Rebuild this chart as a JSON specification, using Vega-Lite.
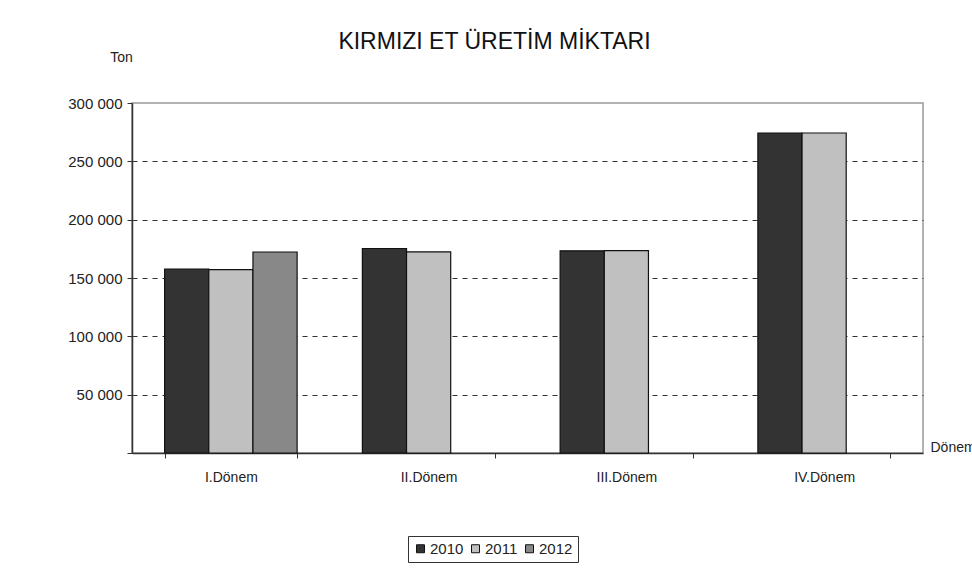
{
  "$schema": "https://vega.github.io/schema/vega-lite/v6.json",
  "autosize": {"type": "none"},
  "width": 791,
  "height": 350,
  "padding": {"left": 132, "top": 103, "right": 49, "bottom": 120},
  "background": "white",
  "config": {
    "locale": {"number": {"decimal": ",", "thousands": " ", "grouping": [3], "currency": ["", ""]}},
    "font": "Liberation Sans",
    "view": {"stroke": "#999999", "strokeWidth": 1.5},
    "title": {"font": "Liberation Sans", "fontSize": 23, "fontWeight": "normal", "color": "#111111"}
  },
  "title": {"text": "KIRMIZI ET ÜRETİM MİKTARI", "anchor": "middle", "offset": -4, "dx": -33},
  "data": {
    "values": [
      {"donem": "I.Dönem", "yil": "2010", "ton": 157700},
      {"donem": "I.Dönem", "yil": "2011", "ton": 157200},
      {"donem": "I.Dönem", "yil": "2012", "ton": 172300},
      {"donem": "II.Dönem", "yil": "2010", "ton": 175300},
      {"donem": "II.Dönem", "yil": "2011", "ton": 172400},
      {"donem": "III.Dönem", "yil": "2010", "ton": 173300},
      {"donem": "III.Dönem", "yil": "2011", "ton": 173400},
      {"donem": "IV.Dönem", "yil": "2010", "ton": 274300},
      {"donem": "IV.Dönem", "yil": "2011", "ton": 274300}
    ]
  },
  "mark": {"type": "bar", "stroke": "#111111", "strokeWidth": 1.2},
  "encoding": {
    "x": {
      "field": "donem",
      "type": "nominal",
      "sort": ["I.Dönem", "II.Dönem", "III.Dönem", "IV.Dönem"],
      "scale": {"paddingInner": 0.33, "paddingOuter": 0.165},
      "axis": {
        "title": "Dönem",
        "titleX": 798,
        "titleY": -6,
        "titleAlign": "left",
        "titleBaseline": "middle",
        "titleFontSize": 14,
        "titleFontWeight": "normal",
        "titleColor": "#222222",
        "labelAngle": 0,
        "labelFontSize": 14,
        "labelColor": "#222222",
        "labelPadding": 12,
        "tickBand": "extent",
        "tickSize": 5,
        "tickColor": "#333333",
        "domainColor": "#333333",
        "domainWidth": 1.5
      }
    },
    "xOffset": {
      "field": "yil",
      "type": "nominal",
      "scale": {"domain": ["2010", "2011", "2012"], "paddingInner": 0, "paddingOuter": 0}
    },
    "y": {
      "field": "ton",
      "type": "quantitative",
      "scale": {"domain": [0, 300000], "nice": false},
      "axis": {
        "title": "Ton",
        "titleAngle": 0,
        "titleX": -11,
        "titleY": -46,
        "titleAlign": "center",
        "titleBaseline": "middle",
        "titleFontSize": 14,
        "titleFontWeight": "normal",
        "titleColor": "#222222",
        "values": [0, 50000, 100000, 150000, 200000, 250000, 300000],
        "format": ",d",
        "labelExpr": "datum.value == 0 ? '' : datum.label",
        "labelFontSize": 15,
        "labelColor": "#222222",
        "labelPadding": 5,
        "tickSize": 5,
        "tickColor": "#333333",
        "domainColor": "#333333",
        "domainWidth": 1.5,
        "grid": true,
        "gridColor": "#333333",
        "gridDash": [5, 5],
        "gridWidth": 1.2,
        "gridOpacity": {"condition": {"test": "datum.value >= 300000 || datum.value == 0", "value": 0}, "value": 1}
      }
    },
    "fill": {
      "field": "yil",
      "type": "nominal",
      "scale": {"domain": ["2010", "2011", "2012"], "range": ["#333333", "#c0c0c0", "#888888"]},
      "legend": {
        "title": null,
        "orient": "none",
        "direction": "horizontal",
        "legendX": 276,
        "legendY": 433,
        "symbolType": "square",
        "symbolSize": 64,
        "symbolStrokeColor": "#111111",
        "symbolStrokeWidth": 1,
        "labelFontSize": 15,
        "labelColor": "#222222",
        "labelOffset": 2,
        "columnPadding": 4,
        "symbolOffset": 0,
        "strokeColor": "#333333",
        "padding": 5
      }
    }
  }
}
